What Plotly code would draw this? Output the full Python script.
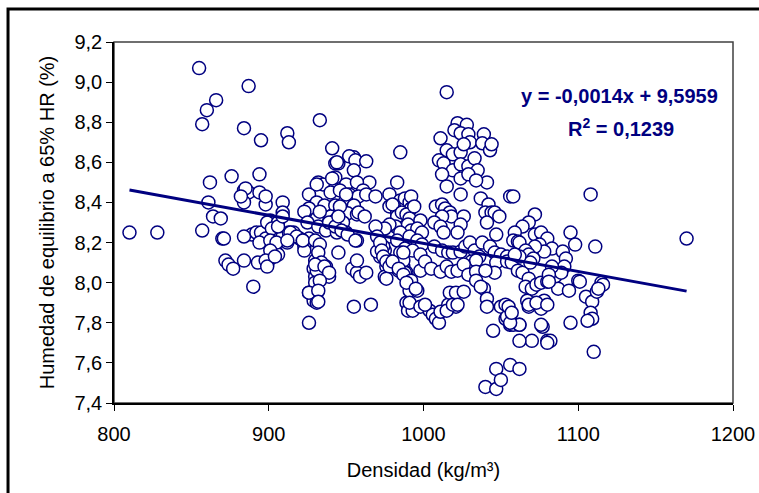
import plotly.graph_objects as go

# Densidad (kg/m3) and humedad de equilibrio (%)
densidad = [
 810,828,855,866,860,857,862,861,864,869,857,870,872,876,874,877,871,
 887,884,895,884,890,884,887,884,894,889,884,912,913,885,894,882,898,909,892,895,901,903,899,909,906,905,902,898,909,913,916,920,926,923,912,901,894,905,901,906,899,893,898,902,906,909,901,905,901,898,899,904,914,918,922,912,
 933,941,955,952,956,963,943,945,955,943,965,932,935,950,957,961,926,940,946,952,958,963,969,931,929,933,926,931,926,936,943,949,955,946,951,957,940,943,948,931,933,923,925,932,937,944,950,957,923,922,931,929,930,931,934,937,939,945,926,929,931,926,955,966,954,957,959,963,957,930,931,930,931,926,930,933,932,934,930,936,939,933,932,932,939,943,947,951,956,958,962,946,945,950,944,941,
 985,983,978,985,978,983,989,970,974,978,983,987,989,972,975,977,976,975,983,987,989,974,970,989,990,988,991,992,980,983,982,978,975,986,989,991,990,992,991,989,985,983,988,985,987,984,988,969,970,972,973,974,976,978,976,980,984,987,992,991,992,994,998,996,999,991,996,999,993,998,998,996,993,987,989,995,991,998,
 1015,1022,1028,1020,1024,1011,1029,1030,1039,1038,1043,1044,1015,1019,1024,1026,1010,1013,1019,1024,1029,1033,1035,1041,1012,1024,1029,1034,1015,1024,1037,1042,1056,1008,1012,1014,1017,1018,1012,1026,1024,1022,1040,1044,1046,1049,1041,1047,1007,1011,1013,1007,1012,1016,1019,1024,1027,1030,1033,1036,1031,1034,1038,1043,1046,1050,1054,1047,1046,1054,1001,1005,1011,1015,1018,1022,1026,1029,1034,1040,1004,1006,1008,1010,1011,1016,1017,1021,1026,1021,1034,1039,1041,1041,1045,1050,1053,1056,1040,1047,1047,1050,1056,1062,1053,1054,1058,1062,1001,1015,1019,1022,1037,
 1058,1108,1072,1068,1064,1059,1058,1061,1072,1076,1080,1075,1083,1078,1072,1095,1098,1090,1092,1091,1111,1100,1105,1109,1112,1115,1108,1109,1106,1095,1110,1077,1080,1070,1062,1062,1056,1055,1057,1057,1061,1064,1068,1066,1070,1073,1076,1080,1083,1085,1089,1087,1094,1101,1068,1076,1067,1078,1083,1081,1081,1062,1066,1068,1071,1069,1062,1059,1170,1116,1113,1082,1080,1076,1068,1073,1080,
]
humedad = [
 8.25,8.25,9.07,8.91,8.86,8.79,8.50,8.40,8.33,8.32,8.26,8.22,8.11,8.53,8.09,8.07,8.22,
 8.98,8.77,8.71,8.11,7.98,8.46,8.45,8.40,8.54,8.24,8.23,8.745,8.70,8.47,8.45,8.43,8.39,8.40,8.25,8.25,8.31,8.28,8.30,8.35,8.30,8.26,8.24,8.22,8.23,8.25,8.25,8.22,8.22,8.18,8.20,8.18,8.20,8.15,8.12,8.14,8.09,8.10,8.43,8.27,8.28,8.33,8.21,8.20,8.16,8.11,8.08,8.13,8.25,8.23,8.21,8.21,
 8.81,8.67,8.625,8.63,8.61,8.605,8.595,8.595,8.56,8.525,8.50,8.50,8.49,8.49,8.50,8.46,8.44,8.45,8.46,8.44,8.43,8.44,8.43,8.49,8.38,8.36,8.36,8.40,8.37,8.385,8.385,8.40,8.385,8.354,8.346,8.34,8.33,8.31,8.30,8.32,8.354,8.354,8.30,8.28,8.26,8.25,8.25,8.21,8.16,8.21,8.11,8.07,8.03,8.00,8.05,8.08,8.03,8.15,7.95,7.91,7.90,7.80,7.88,7.89,8.07,8.05,8.03,8.05,8.11,8.11,8.06,8.00,7.95,7.95,8.21,8.19,8.15,8.10,8.09,8.08,8.05,8.01,7.96,7.905,8.30,8.28,8.26,8.24,8.21,8.35,8.33,8.38,8.33,8.44,8.60,8.52,
 8.65,8.50,8.44,8.41,8.38,8.35,8.39,8.27,8.25,8.23,8.28,8.31,8.25,8.13,8.16,8.11,8.08,8.03,8.10,8.08,8.05,8.18,8.155,7.90,7.86,8.42,8.40,8.37,8.39,8.33,8.28,8.29,8.27,8.35,8.34,8.32,8.29,8.26,8.22,8.20,8.25,8.21,8.17,8.15,8.11,8.06,8.05,8.28,8.23,8.20,8.16,8.13,8.105,8.08,8.02,8.105,8.07,8.04,8.01,7.96,8.43,8.38,8.31,8.27,8.25,8.23,8.21,8.19,8.16,8.14,8.06,7.96,7.86,8.15,8.00,7.97,7.90,7.88,
 8.95,8.795,8.787,8.76,8.745,8.72,8.74,8.70,8.74,8.695,8.66,8.69,8.66,8.64,8.65,8.69,8.61,8.595,8.56,8.59,8.58,8.62,8.56,8.50,8.54,8.52,8.54,8.51,8.48,8.44,8.42,8.39,8.43,8.38,8.39,8.37,8.35,8.33,8.33,8.33,8.29,8.25,8.35,8.35,8.35,8.33,8.30,8.24,8.30,8.28,8.25,8.18,8.16,8.15,8.15,8.155,8.18,8.20,8.16,8.13,8.105,8.11,8.20,8.18,8.15,8.14,8.13,8.10,8.05,8.105,8.105,8.07,8.055,8.08,8.055,8.06,8.09,8.04,8.055,8.06,7.86,7.84,7.82,7.80,7.855,7.89,7.95,7.95,7.955,7.88,8.01,7.97,7.92,7.88,7.76,7.88,7.82,7.79,7.48,7.47,7.57,7.515,7.59,7.57,7.89,7.83,7.79,7.79,7.89,7.86,7.89,7.89,7.98,
 8.43,8.44,8.34,8.30,8.28,8.25,8.21,8.205,8.24,8.25,8.22,8.19,8.17,8.155,8.18,8.25,8.19,8.155,8.12,8.08,8.18,8.01,7.93,7.905,7.955,8.00,7.85,7.82,7.81,7.80,7.655,7.78,7.71,7.71,7.71,7.79,7.80,7.88,7.85,8.10,8.06,8.05,8.02,7.98,7.97,7.99,8.00,8.005,8.01,8.03,8.05,7.97,7.96,8.005,7.88,7.87,7.91,7.91,8.08,8.04,8.005,8.20,8.16,8.14,8.12,8.10,8.13,8.14,8.22,7.99,7.97,7.71,7.70,7.79,7.89,7.90,7.89,
]

slope = -0.0014
intercept = 9.5959
r2_text = "0,1239"

x_ticks = [800, 900, 1000, 1100, 1200]
y_ticks = [7.4, 7.6, 7.8, 8.0, 8.2, 8.4, 8.6, 8.8, 9.0, 9.2]

navy = "#000080"
font_family = "Liberation Sans, Arial, sans-serif"

x_line = [min(densidad), max(densidad)]
y_line = [slope * v + intercept for v in x_line]

fig = go.Figure()
fig.add_trace(go.Scatter(
    x=densidad, y=humedad, mode="markers",
    marker=dict(symbol="circle", size=13, color="white",
                line=dict(color=navy, width=1.5)),
    showlegend=False, hoverinfo="x+y"))
fig.add_trace(go.Scatter(
    x=x_line, y=y_line, mode="lines",
    line=dict(color=navy, width=3), showlegend=False, hoverinfo="skip"))

fig.update_layout(
    width=759, height=493,
    margin=dict(l=114, r=26, t=42, b=90),
    paper_bgcolor="white", plot_bgcolor="white",
    separators=",.",
    font=dict(family=font_family, color="black", size=20),
    xaxis=dict(range=[800, 1200], tickvals=x_ticks, tickformat="d",
               automargin=False,
               showgrid=False, zeroline=False, showline=True,
               linecolor="black", linewidth=1.5, ticks="outside",
               ticklen=6, tickwidth=1, tickcolor="black",
               ticklabelstandoff=6,
               tickfont=dict(size=20),
               title=dict(text="Densidad (kg/m³)", font=dict(size=20), standoff=19)),
    yaxis=dict(range=[7.4, 9.2], tickvals=y_ticks, tickformat=".1f",
               automargin=False,
               showgrid=False, zeroline=False, showline=True,
               linecolor="black", linewidth=1.5, ticks="outside",
               ticklen=6, tickwidth=1, tickcolor="black",
               tickfont=dict(size=20),
               title=dict(text="Humedad de equilibrio a 65% HR (%)",
                          font=dict(size=20), standoff=14)),
    shapes=[
        dict(type="rect", xref="paper", yref="paper", x0=0, x1=1, y0=0, y1=1,
             line=dict(color="#404040", width=1.5), layer="below"),
        dict(type="rect", xref="paper", yref="paper",
             x0=-0.1712, x1=1.1, y0=-0.3, y1=1.0914,
             line=dict(color="black", width=3)),
    ],
    annotations=[
        dict(xref="paper", yref="paper", x=0.816, y=0.850, showarrow=False,
             xanchor="center", yanchor="middle",
             text="<b>y = -0,0014x + 9,5959</b>",
             font=dict(size=20, color=navy, family=font_family)),
        dict(xref="paper", yref="paper", x=0.819, y=0.7645, showarrow=False,
             xanchor="center", yanchor="middle",
             text="<b>R<sup>2</sup> = " + r2_text + "</b>",
             font=dict(size=20, color=navy, family=font_family)),
    ],
)

fig.write_html("out.html")
